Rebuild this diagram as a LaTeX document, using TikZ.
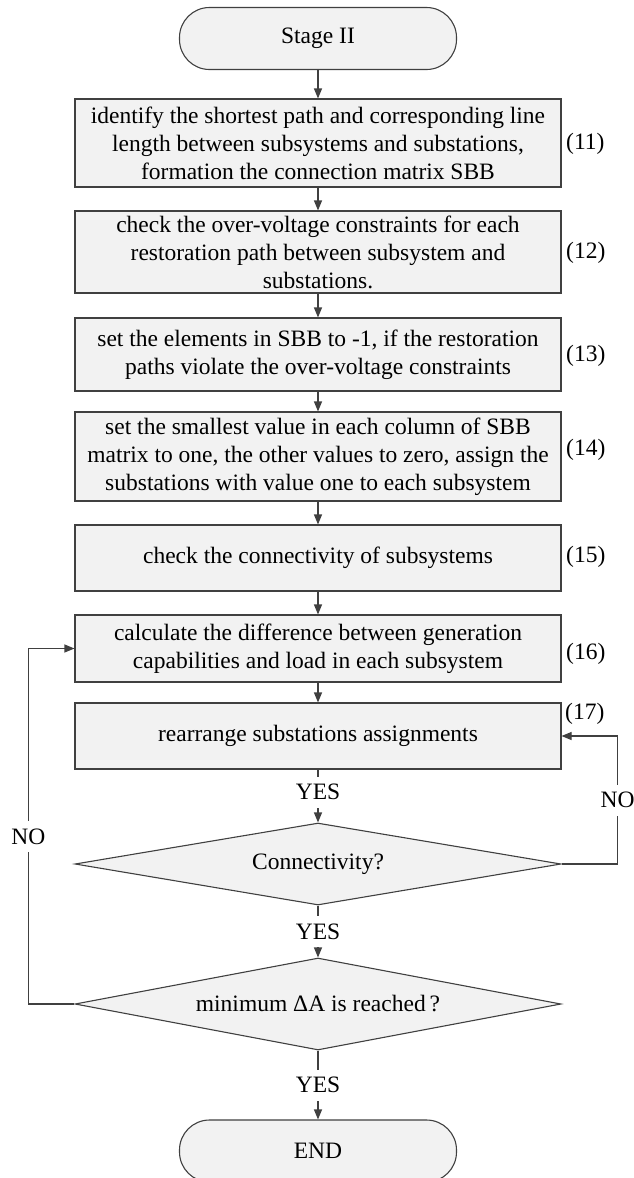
\documentclass[tikz,border=0pt]{standalone}
\usepackage{fontspec}
\setmainfont{Liberation Serif}
\usetikzlibrary{arrows.meta,shapes.geometric}
\definecolor{edgegray}{HTML}{404040}
\definecolor{boxfill}{HTML}{F2F2F2}
\newcommand{\chartfont}{\fontsize{23.5}{28}\selectfont}
\tikzset{
  base/.style={draw=edgegray, fill=boxfill, line width=1.1pt, font=\chartfont,
               align=center, inner sep=0pt},
  procbox/.style={base, rectangle, minimum width=486pt},
  term/.style={base, rectangle, rounded corners=30pt, minimum width=277pt, minimum height=62pt},
  decision/.style={base, diamond, aspect=6, minimum width=486pt},
  eqno/.style={font=\chartfont, anchor=west, inner sep=0pt},
  flow/.style={draw=edgegray, line width=1.1pt, -{Triangle[length=10pt,width=8pt]}},
  link/.style={draw=edgegray, line width=1.1pt},
  answer/.style={font=\chartfont, fill=white, inner xsep=1pt, inner ysep=0pt, minimum height=31pt}
}
\begin{document}
\begin{tikzpicture}[x=1pt,y=-1pt]
\useasboundingbox (0,0) rectangle (634,1178);

% terminators
\node[term] (start) at (318,38.5) {Stage II};
\node[term] (stop) at (318,1151) {END};

% process steps
\node[procbox, minimum height=88pt] (s11) at (318,143)
  {identify the shortest path and corresponding line\\
   length between subsystems and substations,\\
   formation the connection matrix SBB};
\node[procbox, minimum height=82pt] (s12) at (318,252)
  {check the over-voltage constraints for each\\
   restoration path between subsystem and\\
   substations.};
\node[procbox, minimum height=73pt] (s13) at (318,354.5)
  {set the elements in SBB to -1, if the restoration\\
   paths violate the over-voltage constraints};
\node[procbox, minimum height=89pt] (s14) at (318,456.5)
  {set the smallest value in each column of SBB\\
   matrix to one, the other values to zero, assign the\\
   substations with value one to each subsystem};
\node[procbox, minimum height=66pt] (s15) at (318,558)
  {check the connectivity of subsystems};
\node[procbox, minimum height=67pt] (s16) at (318,648.5)
  {calculate the difference between generation\\
   capabilities and load in each subsystem};
\node[procbox, minimum height=66pt] (s17) at (318,736)
  {rearrange substations assignments};

% decisions
\node[decision, minimum height=82pt] (d1) at (318,864) {Connectivity?};
\node[decision, minimum height=92pt] (d2) at (318,1004) {minimum ΔA is reached\,?};

% equation numbers
\node[eqno] (n11) at (566,144) {(11)};
\node[eqno] (n12) at (566,253) {(12)};
\node[eqno] (n13) at (566,356) {(13)};
\node[eqno] (n14) at (566,450) {(14)};
\node[eqno] (n15) at (566,557) {(15)};
\node[eqno] (n16) at (566,654) {(16)};
\node[eqno] (n17) at (565,714) {(17)};

% main flow
\draw[flow] (start.south) -- (s11.north);
\draw[flow] (s11.south) -- (s12.north);
\draw[flow] (s12.south) -- (s13.north);
\draw[flow] (s13.south) -- (s14.north);
\draw[flow] (s14.south) -- (s15.north);
\draw[flow] (s15.south) -- (s16.north);
\draw[flow] (s16.south) -- (s17.north);
\draw[flow] (s17.south) -- node[answer, pos=0.43] (y1) {YES} (d1.north);
\draw[flow] (d1.south) -- node[answer] (y2) {YES} (d2.north);
\draw[flow] (d2.south) -- node[answer] (y3) {YES} (stop.north);

% feedback loops
\draw[flow] (d1.east) -- ++(56,0) |- node[answer, pos=0.25] (no1) {NO} (s17.east);
\draw[flow] (d2.west) -- ++(-46,0) |- node[answer, pos=0.235] (no2) {NO} (s16.west);
\end{tikzpicture}
\end{document}
